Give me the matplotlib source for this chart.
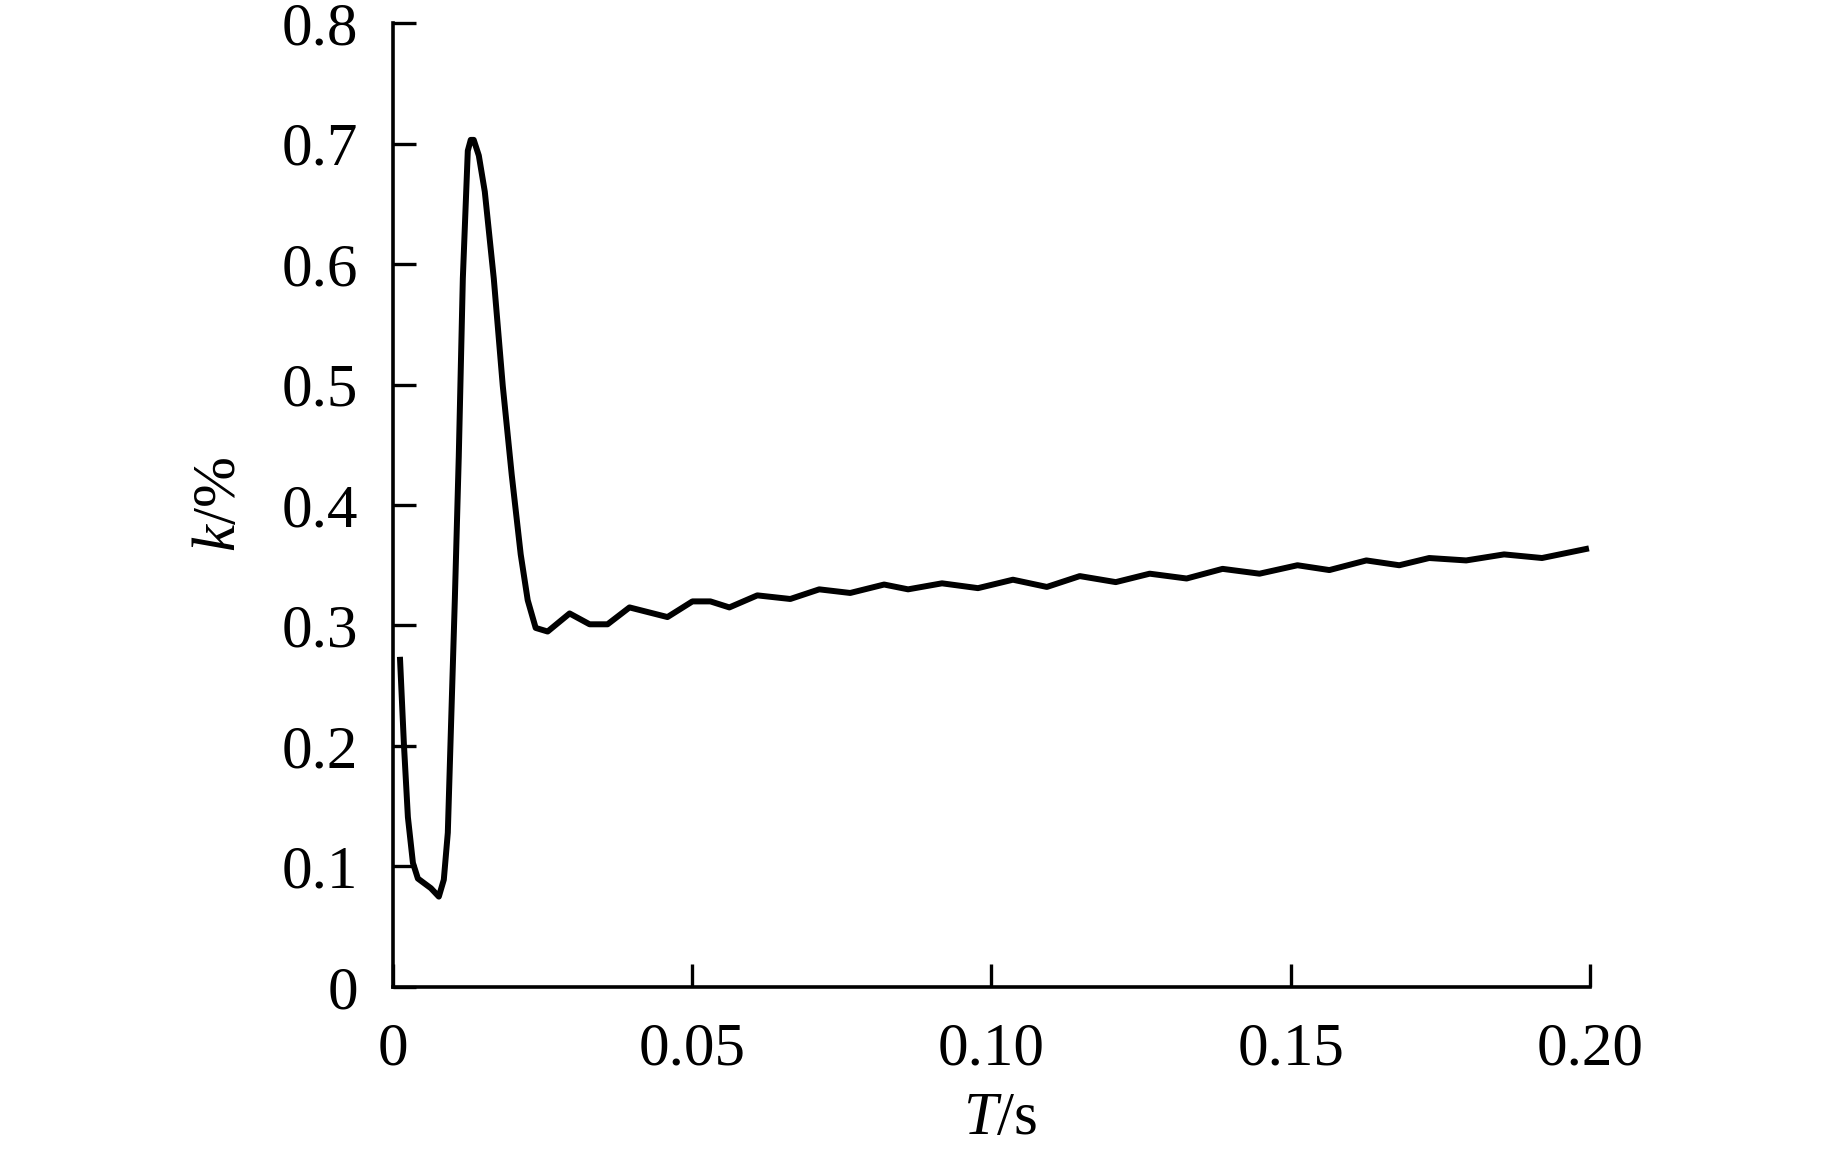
import matplotlib
matplotlib.use("Agg")
import matplotlib.pyplot as plt

# values (time in s, k in %)
t = [0.00117, 0.00183, 0.0025, 0.00334, 0.00417, 0.00634, 0.00767, 0.0085,
     0.00917, 0.00967, 0.01034, 0.0110, 0.01168, 0.01251, 0.01300, 0.01350,
     0.01435, 0.01535, 0.01685, 0.01835, 0.01985, 0.02135, 0.02252, 0.02385,
     0.02585, 0.02952, 0.03286, 0.03586, 0.03953, 0.04587, 0.05004, 0.05304,
     0.05621, 0.06088, 0.06639, 0.07123, 0.07640, 0.08207, 0.08607, 0.09174,
     0.09775, 0.10359, 0.10926, 0.11476, 0.12077, 0.12644, 0.13261, 0.13862,
     0.14479, 0.15113, 0.15646, 0.16264, 0.16814, 0.17314, 0.17932, 0.18565,
     0.19199, 0.19983]
k = [0.274, 0.202, 0.141, 0.103, 0.090, 0.082, 0.075, 0.089,
     0.128, 0.211, 0.321, 0.440, 0.588, 0.694, 0.703, 0.703,
     0.690, 0.660, 0.588, 0.499, 0.425, 0.359, 0.321, 0.298,
     0.295, 0.310, 0.301, 0.301, 0.315, 0.307, 0.320, 0.320,
     0.315, 0.325, 0.322, 0.330, 0.327, 0.334, 0.330, 0.335,
     0.331, 0.338, 0.332, 0.341, 0.336, 0.343, 0.339, 0.347,
     0.343, 0.350, 0.346, 0.354, 0.350, 0.356, 0.354, 0.359,
     0.356, 0.364]

x_ticks = [0, 0.05, 0.10, 0.15, 0.20]
x_labels = ["0", "0.05", "0.10", "0.15", "0.20"]
y_ticks = [0, 0.1, 0.2, 0.3, 0.4, 0.5, 0.6, 0.7, 0.8]
y_labels = ["0", "0.1", "0.2", "0.3", "0.4", "0.5", "0.6", "0.7", "0.8"]

plt.rcParams['font.family'] = ['Liberation Serif', 'DejaVu Serif']
plt.rcParams['mathtext.fontset'] = 'custom'
plt.rcParams['mathtext.rm'] = 'Liberation Serif'
plt.rcParams['mathtext.it'] = 'Liberation Serif:italic'

fig = plt.figure(figsize=(18.43, 11.56), dpi=100)
ax = fig.add_axes([0.2132, 0.1462, 0.6495, 0.8339])

ax.plot(t, k, color='black', linewidth=4.3, solid_joinstyle='round',
        solid_capstyle='butt')

ax.set_xlim(0, 0.20)
ax.set_ylim(0, 0.8)
ax.set_xticks(x_ticks)
ax.set_xticklabels(x_labels)
ax.set_yticks(y_ticks)
ax.set_yticklabels(y_labels)

for side in ['top', 'right']:
    ax.spines[side].set_visible(False)
for side in ['left', 'bottom']:
    ax.spines[side].set_linewidth(2.6)

ax.tick_params(axis='both', direction='in', length=16.5, width=2.4,
               labelsize=44, pad=25)

ax.set_xlabel(r"$T$/s", fontsize=44)
ax.set_ylabel(r"$k$/%", fontsize=44)
ax.xaxis.set_label_coords(0.507, -0.108)
ax.yaxis.set_label_coords(-0.121, 0.5)

fig.savefig("out.png", dpi=100)
